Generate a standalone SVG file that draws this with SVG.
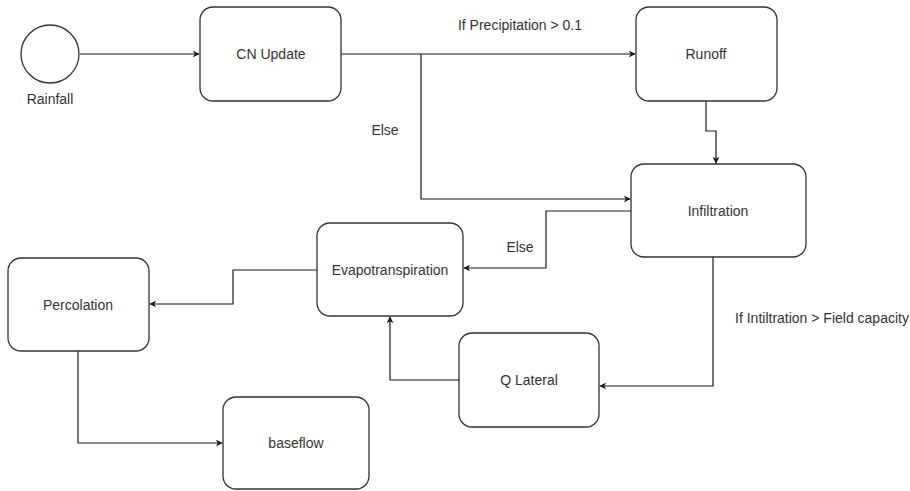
<svg xmlns="http://www.w3.org/2000/svg" width="910" height="491" viewBox="0 0 910 491">
  <defs>
    <style>
      .node { fill: #ffffff; stroke: #333333; stroke-width: 1.3; }
      .edge { fill: none; stroke: #1a1a1a; stroke-width: 1.2; }
      .label { font-family: "Liberation Sans", Arial, sans-serif; font-size: 14px; fill: #333333; text-anchor: middle; dominant-baseline: central; }
    </style>
    <marker id="arrow" viewBox="0 0 10 10" refX="9" refY="5" markerWidth="7" markerHeight="7" markerUnits="userSpaceOnUse" orient="auto">
      <path d="M0,0 L10,5 L0,10 L3,5 Z" fill="#1a1a1a"/>
    </marker>
  </defs>
  <rect width="910" height="491" fill="#ffffff"/>

  <!-- connectors -->
  <g id="connectors">
    <path class="edge" d="M80,54 H199" marker-end="url(#arrow)"/>
    <path class="edge" d="M341,54 H635" marker-end="url(#arrow)"/>
    <path class="edge" d="M421,54 V199 H630" marker-end="url(#arrow)"/>
    <path class="edge" d="M706,101 V131 H716 V163" marker-end="url(#arrow)"/>
    <path class="edge" d="M631,211 H546 V268 H464" marker-end="url(#arrow)"/>
    <path class="edge" d="M713,257 V386 H600" marker-end="url(#arrow)"/>
    <path class="edge" d="M459,380 H390 V317" marker-end="url(#arrow)"/>
    <path class="edge" d="M317,270 H233 V304 H150" marker-end="url(#arrow)"/>
    <path class="edge" d="M78,351 V443 H222" marker-end="url(#arrow)"/>
    <text class="label" x="520" y="25">If Precipitation &gt; 0.1</text>
    <text class="label" x="385" y="130">Else</text>
    <text class="label" x="520" y="247">Else</text>
    <text class="label" x="822" y="318">If Intiltration &gt; Field capacity</text>
  </g>

  <g id="rainfall">
    <circle class="node" cx="50" cy="54" r="29"/>
    <text class="label" x="50" y="99">Rainfall</text>
  </g>
  <g id="cn-update">
    <rect class="node" x="200" y="7" width="141" height="94" rx="13"/>
    <text class="label" x="271" y="54">CN Update</text>
  </g>
  <g id="runoff">
    <rect class="node" x="636" y="7" width="141" height="94" rx="13"/>
    <text class="label" x="706" y="54">Runoff</text>
  </g>
  <g id="infiltration">
    <rect class="node" x="631" y="164" width="175" height="93" rx="13"/>
    <text class="label" x="718" y="211">Infiltration</text>
  </g>
  <g id="evapotranspiration">
    <rect class="node" x="317" y="223" width="146" height="93" rx="13"/>
    <text class="label" x="390" y="270">Evapotranspiration</text>
  </g>
  <g id="percolation">
    <rect class="node" x="8" y="258" width="141" height="93" rx="13"/>
    <text class="label" x="78" y="305">Percolation</text>
  </g>
  <g id="q-lateral">
    <rect class="node" x="459" y="333" width="140" height="94" rx="13"/>
    <text class="label" x="529" y="380">Q Lateral</text>
  </g>
  <g id="baseflow">
    <rect class="node" x="223" y="397" width="146" height="92" rx="13"/>
    <text class="label" x="296" y="443">baseflow</text>
  </g>
</svg>
